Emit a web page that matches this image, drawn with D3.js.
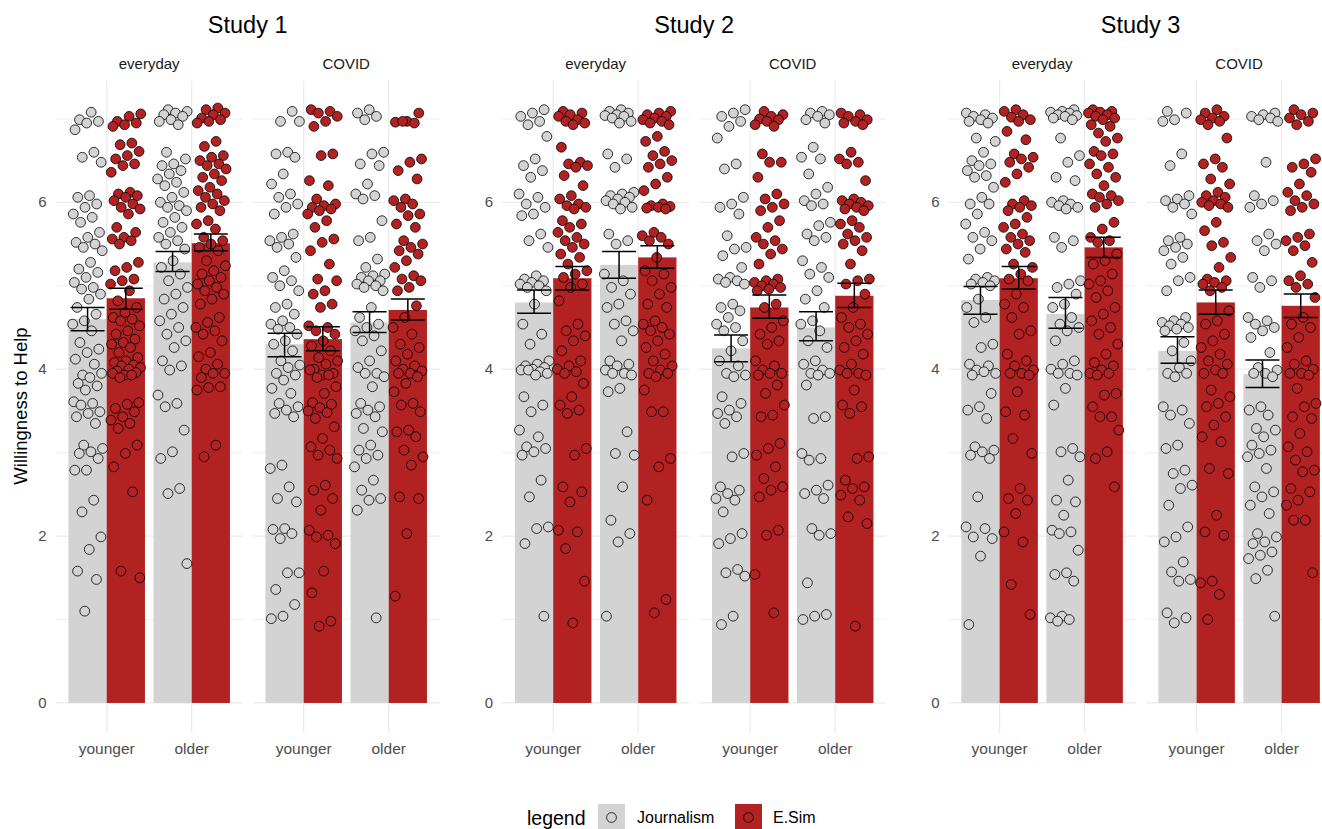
<!DOCTYPE html>
<html><head><meta charset="utf-8">
<script src="https://cdn.jsdelivr.net/npm/d3@7"></script>
<style>body{margin:0;background:#fff} svg{display:block} text{font-family:"Liberation Sans",Arial,sans-serif}</style>
</head><body><svg id="c" width="1322" height="829"></svg>
<script>
const studies=["Study 1","Study 2","Study 3"];
const contexts=["everyday","COVID"];
const ages=["younger","older"];
const conditions=["Journalism","E.Sim"];
const yTicks=[0,2,4,6];
const yGrid=[0,1,2,3,4,5,6,7];
// order: everyday-younger-J, everyday-younger-E, everyday-older-J, everyday-older-E, COVID-younger-J, COVID-younger-E, COVID-older-J, COVID-older-E
const study1Mean=[4.60,4.85,5.28,5.51,4.30,4.36,4.56,4.71];
const study1Lo  =[4.46,4.72,5.17,5.42,4.15,4.22,4.44,4.59];
const study1Hi  =[4.74,4.97,5.41,5.62,4.43,4.51,4.69,4.84];
const study2Mean=[4.80,5.09,5.25,5.34,4.25,4.74,4.50,4.88];
const study2Lo  =[4.67,4.95,5.09,5.21,4.09,4.61,4.34,4.74];
const study2Hi  =[4.95,5.23,5.41,5.48,4.41,4.89,4.69,5.03];
const study3Mean=[4.83,5.09,4.66,5.46,4.22,4.80,3.94,4.76];
const study3Lo  =[4.66,4.96,4.49,5.34,4.07,4.66,3.78,4.62];
const study3Hi  =[4.99,5.23,4.86,5.58,4.39,4.95,4.11,4.90];

const s1_ev_y_J=[7.08,6.99,6.97,6.95,6.87,6.6,6.54,6.48,6.08,6.06,5.98,5.94,5.86,5.82,5.76,5.64,5.58,5.52,5.5,5.46,5.42,5.28,5.2,5.16,5.1,5.04,4.98,4.96,4.9,4.84,4.74,4.66,4.58,4.54,4.46,4.32,4.24,4.2,4.12,4.06,3.93,3.95,3.9,3.83,3.8,3.75,3.61,3.59,3.57,3.49,3.47,3.43,3.35,3.09,3.05,3.01,2.99,2.93,2.79,2.79,2.43,2.29,1.99,1.84,1.58,1.48,1.10];
const s1_ev_y_E=[7.06,7.03,6.97,6.95,6.93,6.91,6.71,6.69,6.61,6.56,6.52,6.46,6.44,6.36,6.12,6.1,6.08,6.06,6.02,5.98,5.94,5.92,5.86,5.7,5.64,5.58,5.56,5.54,5.5,5.28,5.22,5.18,5.08,5.06,5.02,4.94,4.82,4.74,4.68,4.62,4.6,4.58,4.52,4.46,4.42,4.36,4.32,4.3,4.26,4.2,4.14,4.1,4.08,4.05,4.04,4.02,4.0,3.98,3.96,3.93,3.95,3.93,3.9,3.6,3.58,3.53,3.49,3.43,3.39,3.35,3.29,3.09,2.99,2.83,2.53,1.58,1.5];
const s1_ev_o_J=[7.11,7.09,7.07,7.05,7.03,6.99,6.97,6.93,6.6,6.52,6.46,6.44,6.38,6.34,6.28,6.24,6.2,6.12,6.06,6.0,5.96,5.94,5.9,5.82,5.76,5.7,5.64,5.58,5.54,5.5,5.44,5.3,5.22,5.14,5.06,4.98,4.9,4.84,4.74,4.66,4.58,4.5,4.42,4.34,4.26,4.1,4.04,3.99,3.69,3.59,3.55,3.27,3.01,2.93,2.57,2.51,1.67];
const s1_ev_o_E=[7.13,7.11,7.07,7.05,7.01,6.99,6.97,6.95,6.73,6.67,6.56,6.54,6.5,6.46,6.44,6.4,6.34,6.3,6.26,6.18,6.14,6.1,6.06,6.02,5.98,5.94,5.9,5.78,5.74,5.68,5.58,5.54,5.5,5.46,5.42,5.3,5.24,5.18,5.14,5.1,5.06,5.02,4.98,4.94,4.9,4.84,4.78,4.62,4.56,4.5,4.46,4.42,4.34,4.2,4.15,4.06,4.0,3.95,3.95,3.9,3.79,3.78,3.75,3.09,2.95];
const s1_co_y_J=[7.09,6.97,6.97,6.6,6.58,6.54,6.34,6.22,6.1,6.06,5.98,5.94,5.86,5.62,5.58,5.54,5.5,5.46,5.34,5.18,5.1,5.06,5.0,4.94,4.78,4.74,4.66,4.58,4.54,4.5,4.48,4.42,4.34,4.3,4.22,4.1,4.05,4.02,3.95,3.93,3.87,3.77,3.71,3.59,3.55,3.51,3.47,3.43,2.85,2.81,2.59,2.45,2.41,2.09,2.08,2.03,1.97,1.56,1.56,1.36,1.18,1.04,1.01];
const s1_co_y_E=[7.11,7.09,7.07,7.03,6.97,6.91,6.58,6.56,6.26,6.2,6.04,5.98,5.96,5.94,5.92,5.9,5.86,5.78,5.7,5.56,5.52,5.42,5.26,5.08,5.06,4.94,4.9,4.78,4.74,4.52,4.5,4.46,4.42,4.34,4.28,4.22,4.14,4.1,4.06,4.0,3.95,3.93,3.99,3.93,3.9,3.79,3.71,3.6,3.58,3.54,3.5,3.48,3.41,3.31,3.17,3.07,3.03,2.97,2.93,2.61,2.55,2.45,2.31,2.07,2.01,1.99,1.91,1.58,1.32,0.98,0.92];
const s1_co_o_J=[7.11,7.07,7.03,6.99,6.6,6.58,6.46,6.44,6.22,6.1,6.08,6.04,5.78,5.58,5.54,5.32,5.22,5.14,5.12,5.1,5.06,5.06,5.02,5.0,4.98,4.94,4.74,4.62,4.54,4.5,4.46,4.4,4.34,4.22,4.1,4.02,3.95,3.95,3.91,3.79,3.59,3.55,3.51,3.47,3.43,3.29,3.25,3.09,3.03,2.97,2.93,2.83,2.67,2.55,2.45,2.43,2.31,1.02];
const s1_co_o_E=[7.07,6.97,6.96,6.95,6.97,6.52,6.48,6.38,6.28,6.04,6.02,5.98,5.94,5.86,5.84,5.74,5.7,5.54,5.5,5.46,5.42,5.38,5.3,5.22,5.12,5.08,5.06,4.98,4.94,4.76,4.62,4.5,4.42,4.3,4.26,4.18,4.1,4.04,4.0,3.98,3.95,3.95,3.91,3.83,3.73,3.59,3.57,3.49,3.27,3.25,3.19,3.03,2.95,2.85,2.47,2.45,2.03,1.28];
const s2_ev_y_J=[7.11,7.07,7.03,6.97,6.93,6.79,6.52,6.44,6.38,6.3,6.1,6.06,5.98,5.94,5.86,5.84,5.62,5.54,5.46,5.12,5.08,5.06,5.04,5.02,5.0,4.98,4.94,4.78,4.54,4.42,4.3,4.1,4.06,4.04,4.02,4.0,3.99,3.97,3.99,3.95,3.93,3.67,3.57,3.49,3.27,3.19,3.07,3.05,3.01,2.97,2.67,2.47,2.11,2.09,1.91,1.04];
const s2_ev_y_E=[7.09,7.07,7.05,7.03,6.99,6.97,6.95,6.93,6.66,6.48,6.46,6.44,6.42,6.32,6.2,6.08,6.04,5.98,5.96,5.94,5.92,5.78,5.74,5.7,5.64,5.58,5.54,5.5,5.46,5.38,5.34,5.26,5.18,5.14,5.1,5.02,4.98,4.82,4.54,4.46,4.4,4.34,4.22,4.1,4.04,4.0,3.97,3.95,3.83,3.67,3.57,3.51,3.47,3.05,2.97,2.59,2.53,2.41,2.07,2.05,1.85,1.46,0.96];
const s2_ev_o_J=[7.11,7.09,7.07,7.05,7.04,7.03,7.01,6.97,6.95,6.58,6.52,6.42,6.12,6.1,6.08,6.06,6.04,6.02,6.0,5.98,5.94,5.92,5.62,5.54,5.5,5.14,5.06,4.98,4.9,4.78,4.74,4.58,4.54,4.46,4.34,4.1,4.06,4.04,3.99,3.95,3.95,3.93,3.77,3.73,3.25,2.99,2.97,2.59,2.19,2.03,1.93,1.04];
const s2_ev_o_E=[7.09,7.07,7.05,7.03,7.01,6.99,6.97,6.95,6.93,6.79,6.73,6.61,6.56,6.5,6.46,6.42,6.3,6.22,6.14,5.98,5.96,5.95,5.94,5.93,5.92,5.64,5.6,5.58,5.54,5.5,5.34,5.18,5.14,5.06,4.98,4.9,4.78,4.74,4.58,4.54,4.5,4.46,4.42,4.34,4.26,4.18,4.1,4.04,3.99,3.95,3.95,3.91,3.75,3.49,3.49,2.93,2.83,2.43,1.24,1.08];
const s2_co_y_J=[7.11,7.07,7.03,6.97,6.91,6.77,6.46,6.4,6.06,5.98,5.94,5.86,5.6,5.46,5.44,5.36,5.22,5.1,5.08,5.06,5.04,5.02,4.78,4.74,4.7,4.62,4.54,4.5,4.46,4.34,4.22,4.1,4.04,3.95,3.93,3.91,3.67,3.59,3.51,3.47,3.43,3.35,2.99,2.95,2.59,2.55,2.51,2.45,2.43,2.29,2.03,1.97,1.91,1.6,1.56,1.52,1.04,0.94];
const s2_co_y_E=[7.09,7.05,7.03,7.0,6.99,6.97,6.93,6.91,6.58,6.48,6.48,6.3,6.1,6.04,5.98,5.94,5.9,5.78,5.7,5.58,5.54,5.5,5.44,5.38,5.26,5.08,5.06,5.04,5.02,5.0,4.98,4.96,4.94,4.78,4.74,4.58,4.5,4.42,4.34,4.3,4.1,4.04,3.99,3.95,3.95,3.93,3.81,3.71,3.57,3.45,3.43,3.11,3.05,2.97,2.83,2.69,2.59,2.55,2.47,2.07,2.01,1.54,1.08];
const s2_co_o_J=[7.09,7.07,7.05,7.03,6.99,6.95,6.66,6.54,6.52,6.34,6.18,6.1,6.02,5.98,5.96,5.76,5.72,5.62,5.58,5.54,5.3,5.22,5.14,5.1,4.94,4.84,4.74,4.58,4.54,4.46,4.34,4.26,4.1,4.06,3.99,3.95,3.95,3.93,3.81,3.43,3.41,2.99,2.93,2.91,2.61,2.55,2.51,2.45,2.09,2.03,2.01,1.44,1.06,1.04,1.0];
const s2_co_o_E=[7.07,7.05,7.03,6.99,6.97,6.95,6.93,6.6,6.52,6.48,6.46,6.26,6.04,6.02,6.0,5.98,5.96,5.94,5.92,5.9,5.78,5.74,5.7,5.62,5.58,5.54,5.5,5.42,5.26,5.08,5.06,5.02,4.9,4.74,4.62,4.54,4.5,4.42,4.34,4.26,4.18,4.06,3.99,3.95,3.95,3.93,3.75,3.57,3.55,3.47,2.95,2.93,2.67,2.59,2.57,2.49,2.43,2.23,2.15,0.92];
const s3_ev_y_J=[7.07,7.05,7.03,7.01,6.99,6.97,6.95,6.77,6.73,6.6,6.5,6.46,6.44,6.38,6.32,6.3,6.18,6.06,5.98,5.98,5.86,5.74,5.64,5.58,5.54,5.44,5.32,5.1,5.08,5.06,5.04,5.02,5.0,4.84,4.74,4.62,4.56,4.3,4.26,4.06,4.04,3.99,3.95,3.97,3.93,3.71,3.55,3.51,3.41,3.07,3.03,3.01,2.97,2.93,2.47,2.11,2.09,1.99,1.97,1.76,0.94];
const s3_ev_y_E=[7.11,7.09,7.05,7.02,6.99,6.97,6.85,6.75,6.58,6.54,6.52,6.48,6.42,6.34,6.24,6.02,5.98,5.96,5.94,5.9,5.82,5.74,5.7,5.62,5.58,5.54,5.5,5.44,5.4,5.26,5.22,5.14,5.08,5.06,4.9,4.78,4.74,4.62,4.46,4.42,4.18,4.1,4.04,3.99,3.95,3.95,3.93,3.73,3.49,3.45,3.17,2.99,2.57,2.45,2.43,2.27,2.05,1.93,1.42,1.06];
const s3_ev_o_J=[7.11,7.09,7.08,7.07,7.05,7.04,7.03,7.01,6.99,6.77,6.56,6.48,6.3,6.26,6.02,6.0,5.98,5.96,5.94,5.92,5.58,5.54,5.46,5.06,5.02,4.98,4.9,4.78,4.74,4.62,4.54,4.5,4.46,4.34,4.1,4.06,4.0,3.95,3.95,3.93,3.77,3.57,3.05,3.01,2.95,2.67,2.43,2.41,2.25,2.07,2.05,2.03,1.83,1.56,1.54,1.46,1.04,1.02,1.0,0.98];
const s3_ev_o_E=[7.11,7.09,7.08,7.07,7.05,7.03,7.01,6.99,6.93,6.91,6.83,6.77,6.73,6.61,6.58,6.56,6.46,6.42,6.34,6.3,6.2,6.1,6.08,6.06,6.02,5.98,5.94,5.76,5.68,5.58,5.54,5.52,5.38,5.3,5.26,5.14,5.06,5.02,4.94,4.86,4.74,4.66,4.58,4.5,4.42,4.3,4.18,4.08,4.04,3.99,3.95,3.95,3.93,3.71,3.69,3.55,3.43,3.43,3.27,3.01,2.93,2.59];
const s3_co_y_J=[7.09,7.07,6.99,6.97,6.58,6.44,6.08,6.04,6.02,5.98,5.94,5.86,5.58,5.54,5.5,5.46,5.42,5.34,5.26,5.1,5.06,4.94,4.62,4.58,4.56,4.54,4.52,4.5,4.48,4.46,4.32,4.22,4.1,4.02,3.95,3.95,3.91,3.55,3.51,3.45,3.35,3.09,3.05,2.79,2.75,2.61,2.57,2.37,2.11,1.99,1.93,1.69,1.57,1.48,1.46,1.08,1.02,0.96];
const s3_co_y_E=[7.11,7.07,7.03,7.01,6.99,6.97,6.93,6.77,6.52,6.46,6.42,6.28,6.22,6.12,6.08,6.06,6.02,6.0,5.98,5.96,5.94,5.76,5.66,5.52,5.48,5.34,5.22,5.08,5.06,5.04,5.02,4.98,4.94,4.7,4.58,4.54,4.42,4.34,4.26,4.18,4.1,4.06,3.99,3.95,3.95,3.75,3.67,3.59,3.55,3.43,3.33,3.19,3.13,2.81,2.75,2.25,2.05,2.01,1.46,1.44,1.3,1.0];
const s3_co_o_J=[7.07,7.05,7.03,7.01,6.99,6.97,6.48,6.08,6.02,5.98,5.94,5.62,5.54,5.5,5.42,5.1,5.06,4.98,4.62,4.58,4.54,4.5,4.46,4.38,4.2,4.02,3.99,3.95,3.95,3.91,3.55,3.51,3.45,3.29,3.27,3.19,3.09,3.03,2.99,2.95,2.81,2.59,2.53,2.47,2.37,2.27,2.03,1.99,1.93,1.91,1.81,1.77,1.73,1.59,1.49,1.04];
const s3_co_o_E=[7.11,7.07,7.05,7.01,6.97,6.93,6.52,6.46,6.42,6.36,6.22,6.12,6.08,6.02,5.98,5.94,5.9,5.62,5.58,5.54,5.48,5.42,5.28,5.12,5.06,5.02,4.98,4.86,4.62,4.54,4.5,4.38,4.26,4.1,4.06,4.0,3.95,3.95,3.93,3.77,3.59,3.55,3.43,3.41,3.23,3.07,3.01,2.91,2.79,2.77,2.57,2.53,2.43,2.37,2.19,2.19,1.56];

const means=[study1Mean,study2Mean,study3Mean];
const lows=[study1Lo,study2Lo,study3Lo];
const highs=[study1Hi,study2Hi,study3Hi];
const points=[
 [s1_ev_y_J,s1_ev_y_E,s1_ev_o_J,s1_ev_o_E,s1_co_y_J,s1_co_y_E,s1_co_o_J,s1_co_o_E],
 [s2_ev_y_J,s2_ev_y_E,s2_ev_o_J,s2_ev_o_E,s2_co_y_J,s2_co_y_E,s2_co_o_J,s2_co_o_E],
 [s3_ev_y_J,s3_ev_y_E,s3_ev_o_J,s3_ev_o_E,s3_co_y_J,s3_co_y_E,s3_co_o_J,s3_co_o_E]];

const fills={"Journalism":"#d3d3d3","E.Sim":"#b22222"};
const svg=d3.select("#c");
const y=d3.scaleLinear().domain([-0.36,7.46]).range([733,80.5]);
const studyLeft=[55.7,502.2,948.6];
const facetStep=197, facetW=187;
const dodge=d3.scaleBand().domain(conditions).range([-0.45,0.45]);
const jit=d3.scaleLinear().domain([0,1]).range([-0.18,0.18]);

studies.forEach((st,s)=>{
  const g=svg.append("g");
  const sL=studyLeft[s];
  const sR=sL+facetStep+facetW;
  g.append("text").attr("x",(sL+sR)/2).attr("y",33).attr("text-anchor","middle")
   .attr("font-size",23.5).attr("fill","#000").text(st);
  g.selectAll(".yt").data(yTicks).join("text").attr("x",sL-9).attr("y",d=>y(d)+5)
   .attr("text-anchor","end").attr("font-size",15).attr("fill","#4d4d4d").text(d=>d);
  contexts.forEach((ctx,f)=>{
    const left=sL+f*facetStep;
    const x=d3.scaleLinear().domain([0.4,2.6]).range([left,left+facetW]);
    const pg=g.append("g");
    pg.selectAll(".hg").data(yGrid).join("line").attr("x1",left).attr("x2",left+facetW)
      .attr("y1",d=>y(d)).attr("y2",d=>y(d)).attr("stroke","#ebebeb").attr("stroke-width",d=>d%2===0?1.2:0.8);
    pg.selectAll(".vg").data(ages).join("line").attr("x1",(d,i)=>x(i+1)).attr("x2",(d,i)=>x(i+1))
      .attr("y1",y.range()[1]).attr("y2",y.range()[0]).attr("stroke","#ebebeb").attr("stroke-width",1.2);
    pg.append("text").attr("x",left+facetW/2).attr("y",69).attr("text-anchor","middle")
      .attr("font-size",15).attr("fill","#1a1a1a").text(ctx);
    pg.selectAll(".xl").data(ages).join("text").attr("x",(d,i)=>x(i+1)).attr("y",754)
      .attr("text-anchor","middle").attr("font-size",15.5).attr("fill","#4d4d4d").text(d=>d);
    const cells=[];
    ages.forEach((a,ai)=>conditions.forEach((c,ci)=>{
      const k=f*4+ai*2+ci;
      cells.push({a,ai,c,k,m:means[s][k],lo:lows[s][k],hi:highs[s][k],pts:points[s][k],
        cx:ai+1+dodge(c)+dodge.bandwidth()/2});
    }));
    pg.selectAll(".bar").data(cells).join("rect")
      .attr("x",d=>x(d.ai+1+dodge(d.c))).attr("width",d=>x(d.ai+1+dodge(d.c)+dodge.bandwidth())-x(d.ai+1+dodge(d.c)))
      .attr("y",d=>y(d.m)).attr("height",d=>y(0)-y(d.m)).attr("fill",d=>fills[d.c]);
    cells.forEach((cell,ci)=>{
      pg.append("g").selectAll("circle").data(cell.pts).join("circle")
        .attr("cx",(v,i)=>x(cell.cx+jit(((i+1)*0.6180339887+ci*0.37+s*0.21+f*0.13)%1)))
        .attr("cy",v=>y(v)).attr("r",4.9).attr("fill",fills[cell.c])
        .attr("stroke","#000").attr("stroke-width",0.8);
    });
    const eb=pg.selectAll(".eb").data(cells).join("g").attr("stroke","#000").attr("stroke-width",1.5);
    eb.append("line").attr("x1",d=>x(d.cx)).attr("x2",d=>x(d.cx)).attr("y1",d=>y(d.lo)).attr("y2",d=>y(d.hi));
    eb.append("line").attr("x1",d=>x(d.cx-0.2)).attr("x2",d=>x(d.cx+0.2)).attr("y1",d=>y(d.lo)).attr("y2",d=>y(d.lo));
    eb.append("line").attr("x1",d=>x(d.cx-0.2)).attr("x2",d=>x(d.cx+0.2)).attr("y1",d=>y(d.hi)).attr("y2",d=>y(d.hi));
  });
});
svg.append("text").attr("transform","translate(27,406) rotate(-90)").attr("text-anchor","middle")
  .attr("font-size",18.5).attr("fill","#000").text("Willingness to Help");
const lg=svg.append("g");
lg.append("text").attr("x",527).attr("y",825).attr("font-size",19.5).attr("fill","#000").text("legend");
const keyX=[598,735], labX=[637,773];
conditions.forEach((c,i)=>{
  lg.append("rect").attr("x",keyX[i]).attr("y",804).attr("width",27).attr("height",27).attr("fill",fills[c]);
  lg.append("circle").attr("cx",keyX[i]+13.5).attr("cy",817.5).attr("r",4.9).attr("fill",fills[c]).attr("stroke","#000").attr("stroke-width",0.8);
  lg.append("text").attr("x",labX[i]).attr("y",823).attr("font-size",16).attr("fill","#000").text(c);
});
</script></body></html>
